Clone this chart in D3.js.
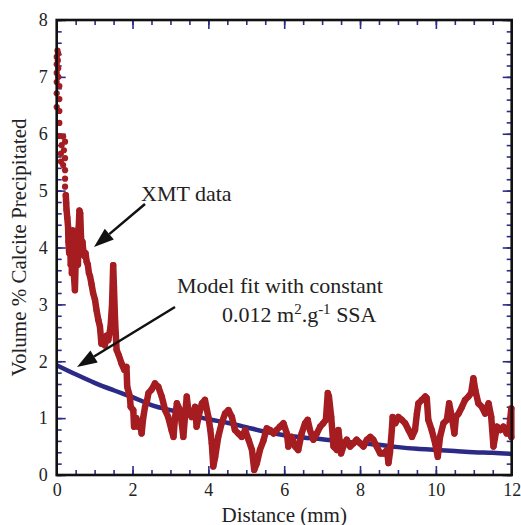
<!DOCTYPE html>
<html><head><meta charset="utf-8">
<script src="https://cdn.jsdelivr.net/npm/d3@7"></script>
<style>body{margin:0;background:#fff}svg{display:block}text{font-family:"Liberation Serif","Times New Roman",serif;fill:#222}</style>
</head><body><svg id="c" width="521" height="525"></svg>
<script>
// XMT data: distance (mm), volume % calcite
const xmtDistance = [0.02,0.04,0.00,0.03,0.00,0.04,0.00,0.04,0.00,0.07,0.00,0.07,0.00,0.07,0.07,0.07,0.17,0.22,0.13,0.19,0.11,0.22,0.11,0.17,0.22,0.22,0.22,0.24,0.25,0.26,0.28,0.30,0.31,0.33,0.35,0.37,0.39,0.40,0.42,0.44,0.46,0.48,0.50,0.52,0.54,0.56,0.58,0.60,0.62,0.64,0.66,0.68,0.70,0.73,0.76,0.79,0.82,0.85,0.88,0.92,0.96,1.01,1.05,1.10,1.14,1.18,1.22,1.27,1.32,1.36,1.42,1.46,1.49,1.51,1.54,1.58,1.64,1.71,1.78,1.84,1.86,1.93,1.95,2.02,2.04,2.10,2.15,2.20,2.24,2.28,2.33,2.38,2.42,2.50,2.59,2.68,2.77,2.86,2.94,3.03,3.08,3.12,3.17,3.25,3.30,3.34,3.38,3.43,3.47,3.56,3.65,3.69,3.75,3.83,3.91,4.00,4.05,4.09,4.13,4.18,4.26,4.35,4.44,4.53,4.62,4.70,4.79,4.88,4.97,5.06,5.15,5.21,5.28,5.36,5.45,5.54,5.63,5.72,5.80,5.89,5.98,6.07,6.11,6.20,6.29,6.37,6.46,6.55,6.62,6.68,6.77,6.86,6.95,7.03,7.10,7.15,7.18,7.24,7.30,7.39,7.43,7.50,7.56,7.65,7.74,7.83,7.91,8.00,8.09,8.18,8.27,8.35,8.44,8.53,8.62,8.71,8.75,8.79,8.84,8.86,8.93,9.01,9.10,9.19,9.28,9.37,9.45,9.50,9.54,9.63,9.72,9.76,9.80,9.89,9.98,10.05,10.11,10.20,10.29,10.35,10.42,10.49,10.53,10.60,10.69,10.77,10.86,10.93,10.99,11.04,11.12,11.21,11.30,11.39,11.46,11.52,11.61,11.70,11.78,11.87,11.93,11.99,11.99];
const xmtCalcite = [7.46,7.41,7.35,7.29,7.22,7.15,7.07,7.00,6.91,6.84,6.71,6.61,6.47,6.40,6.19,5.96,5.95,5.86,5.80,5.71,5.65,5.57,5.51,5.45,5.36,5.21,5.07,4.92,4.78,4.66,4.52,4.36,4.10,3.90,4.25,3.70,4.05,3.55,4.30,3.85,3.45,3.25,3.75,4.25,4.00,3.70,4.35,4.65,4.60,4.20,3.95,4.10,3.95,3.85,3.90,3.75,3.70,3.55,3.49,3.35,3.20,3.08,2.90,2.72,2.61,2.31,2.40,2.28,2.45,2.37,2.60,3.00,3.69,3.30,2.70,2.20,2.10,1.96,1.85,1.90,1.55,1.38,1.20,1.14,0.85,1.00,0.85,0.90,0.73,1.00,1.20,1.30,1.44,1.50,1.61,1.55,1.38,1.14,1.02,0.79,0.67,1.00,1.26,1.14,0.90,0.67,1.00,1.38,1.14,1.02,1.20,0.85,1.05,1.26,1.32,1.02,0.80,0.56,0.15,0.32,0.67,0.91,1.08,1.14,1.02,0.79,0.73,0.67,0.79,0.62,0.44,0.09,0.21,0.44,0.60,0.82,0.79,0.73,0.79,0.85,0.91,0.73,0.50,0.67,0.50,0.44,0.73,0.91,0.97,0.79,0.62,0.73,0.85,0.91,0.97,1.44,1.38,1.02,0.50,0.44,0.79,0.38,0.50,0.62,0.50,0.56,0.62,0.56,0.50,0.62,0.67,0.62,0.50,0.38,0.38,0.44,0.21,0.40,0.80,1.02,0.91,1.02,0.97,0.91,0.79,0.67,0.79,1.08,1.26,1.32,1.38,1.35,0.97,0.79,0.56,0.32,0.67,0.91,0.97,1.26,1.02,0.73,1.02,1.08,1.20,1.32,1.38,1.44,1.70,1.49,1.26,1.20,1.08,1.26,1.02,0.50,0.85,0.79,0.85,0.73,0.79,1.17,0.67];
// Model fit with constant 0.012 m2/g SSA
const modelDistance = [0,0.5,1,1.5,2,2.5,3,3.5,4,4.5,5,5.5,6,6.5,7,7.5,8,8.5,9,9.5,10,10.5,11,11.5,12];
const modelCalcite = [1.93,1.77,1.62,1.49,1.37,1.23,1.14,1.07,0.98,0.92,0.84,0.76,0.70,0.66,0.63,0.59,0.56,0.53,0.49,0.46,0.44,0.42,0.40,0.39,0.37];
const xTickLabels = [0,2,4,6,8,10,12];
const yTickLabels = [0,1,2,3,4,5,6,7,8];

const svg = d3.select('#c');
const L=56.7, R=511.7, T=20, B=475;
const x = d3.scaleLinear().domain([0,12]).range([L,R]);
const y = d3.scaleLinear().domain([0,8]).range([B,T]);
const tickCol = '#2d2d88';

function styleAxis(g){ g.select('.domain').remove(); g.selectAll('.tick line').attr('stroke',tickCol).attr('stroke-width',1.6); g.selectAll('.tick text').style('font-family','"Liberation Serif",serif').style('font-size','18px').attr('fill','#222'); }

const xMinor = d3.range(0,12.001,0.5), yMinor = d3.range(0,8.001,0.2);
// bottom
svg.append('g').attr('transform',`translate(0,${B})`).call(d3.axisBottom(x).tickValues(xMinor).tickSize(-5).tickFormat('')).call(styleAxis);
svg.append('g').attr('transform',`translate(0,${B})`).call(d3.axisBottom(x).tickValues(xTickLabels).tickSize(-9).tickPadding(8).tickFormat(d3.format('d'))).call(styleAxis);
// top
svg.append('g').attr('transform',`translate(0,${T})`).call(d3.axisTop(x).tickValues(xMinor).tickSize(-5).tickFormat('')).call(styleAxis);
svg.append('g').attr('transform',`translate(0,${T})`).call(d3.axisTop(x).tickValues(xTickLabels).tickSize(-9).tickFormat('')).call(styleAxis);
// left
svg.append('g').attr('transform',`translate(${L},0)`).call(d3.axisLeft(y).tickValues(yMinor).tickSize(-5).tickFormat('')).call(styleAxis);
svg.append('g').attr('transform',`translate(${L},0)`).call(d3.axisLeft(y).tickValues(yTickLabels).tickSize(-9).tickPadding(9).tickFormat(d3.format('d'))).call(styleAxis);
// right
svg.append('g').attr('transform',`translate(${R},0)`).call(d3.axisRight(y).tickValues(yMinor).tickSize(-5).tickFormat('')).call(styleAxis);
svg.append('g').attr('transform',`translate(${R},0)`).call(d3.axisRight(y).tickValues(yTickLabels).tickSize(-9).tickFormat('')).call(styleAxis);

// model curve
const model = modelDistance.map((d,i)=>[d,modelCalcite[i]]);
svg.append('path').datum(model).attr('fill','none').attr('stroke','#2b2a86').attr('stroke-width',4.5)
  .attr('d', d3.line().x(d=>x(d[0])).y(d=>y(d[1])).curve(d3.curveMonotoneX));

// XMT data
const red = '#a51d21';
const pts = xmtDistance.map((d,i)=>[d,xmtCalcite[i]]);
svg.append('path').datum(pts.filter(p=>p[0]>=0.24)).attr('fill','none').attr('stroke',red).attr('stroke-width',6.5)
  .attr('stroke-linejoin','round').attr('stroke-linecap','round')
  .attr('d', d3.line().x(d=>x(d[0])).y(d=>y(d[1])));
svg.append('g').selectAll('circle').data(pts).join('circle')
  .attr('cx',d=>x(d[0])).attr('cy',d=>y(d[1])).attr('r',3.1).attr('fill',red);

// frame
svg.append('rect').attr('x',L).attr('y',T).attr('width',R-L).attr('height',B-T).attr('fill','none').attr('stroke','#111').attr('stroke-width',2.6);

// arrows
function arrow(x1,y1,x2,y2){
  const a=Math.atan2(y2-y1,x2-x1), hl=20, hw=7;
  const bx=x2-hl*Math.cos(a), by=y2-hl*Math.sin(a);
  svg.append('line').attr('x1',x1).attr('y1',y1).attr('x2',bx).attr('y2',by).attr('stroke','#111').attr('stroke-width',2.5);
  const px=-Math.sin(a), py=Math.cos(a);
  svg.append('path').attr('d',`M${x2},${y2}L${bx+hw*px},${by+hw*py}L${bx-hw*px},${by-hw*py}Z`).attr('fill','#111');
}
arrow(145,204,94,247);
arrow(175,307,77,367);

// annotations
svg.append('text').attr('x',141).attr('y',201).style('font-size','22px').text('XMT data');
svg.append('text').attr('x',177).attr('y',293).style('font-size','22px').text('Model fit with constant');
const t2 = svg.append('text').attr('x',222).attr('y',322).style('font-size','22px');
t2.append('tspan').text('0.012 m');
t2.append('tspan').attr('dy',-8).style('font-size','15px').text('2');
t2.append('tspan').attr('dy',8).text('.g');
t2.append('tspan').attr('dy',-8).style('font-size','15px').text('-1');
t2.append('tspan').attr('dy',8).text(' SSA');

// axis titles
svg.append('text').attr('x',(L+R)/2).attr('y',522).attr('text-anchor','middle').style('font-size','21px').text('Distance (mm)');
svg.append('text').attr('transform',`translate(26,${(T+B)/2}) rotate(-90)`).attr('text-anchor','middle').style('font-size','21px').text('Volume % Calcite Precipitated');
</script></body></html>
